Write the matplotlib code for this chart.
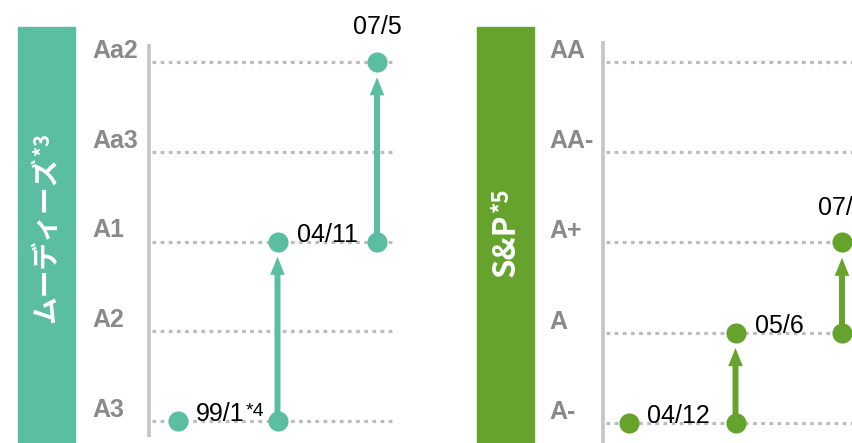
import matplotlib
matplotlib.use("Agg")
import matplotlib.pyplot as plt
from matplotlib.patches import Rectangle

# ---------------- data ----------------
moody_levels = ["A3", "A2", "A1", "Aa3", "Aa2"]
moody_dates = ["99/1", "04/11", "07/5"]
moody_notes = ["*4", "", ""]
moody_before = [None, "A3", "A1"]
moody_after = ["A3", "A1", "Aa2"]

sp_levels = ["A-", "A", "A+", "AA-", "AA"]
sp_dates = ["04/12", "05/6", "07/6"]
sp_notes = ["", "", ""]
sp_before = [None, "A-", "A"]
sp_after = ["A-", "A", "A+"]

# ---------------- style ----------------
W, H = 852, 443
TEAL = "#5bbea3"
GREEN = "#65a32d"
GRAY_TXT = "#8a8a8a"
GRID = "#bcbcbc"
AXLINE = "#c4c4c4"
LAT = ["Liberation Sans", "DejaVu Sans"]
CJK = ["Noto Sans CJK JP", "DejaVu Sans"]

fig = plt.figure(figsize=(W / 100, H / 100), dpi=100)
fig.patch.set_facecolor("white")


def panel(title, note, color, levels, dates, notes, before, after,
          banner_x, title_cy, title_size, label_x, axis_x, col0_x, col2_x,
          grid_end_x, y_low, y_high, line_top, line_bot):
    # banner
    fig.patches.append(Rectangle((banner_x / W, -0.1), 57 / W, 1 - 27 / H + 0.1,
                                 transform=fig.transFigure, color=color, zorder=-5))
    sp = (col2_x - col0_x) / 2.0
    spy = (y_low - y_high) / 4.0
    x0 = -(col0_x - axis_x) / sp
    x1 = x0 + (grid_end_x - axis_x) / sp
    yb = -(H - y_low) / spy
    yt = 4 + y_high / spy
    ax = fig.add_axes([axis_x / W, 0, (grid_end_x - axis_x) / W, 1])
    ax.set_xlim(x0, x1)
    ax.set_ylim(yb, yt)
    ax.axis("off")

    t = ax.text((banner_x + 28.5) / W, 1 - title_cy / H, title,
                transform=fig.transFigure, rotation=90,
                ha="center", va="center", color="white", fontsize=title_size,
                fontweight="bold", family=CJK, zorder=10)
    ax.annotate(note, xy=(0.0, 1), xycoords=t, xytext=(0, 1), textcoords="offset points",
                rotation=90, ha="left", va="bottom", color="white",
                fontsize=title_size * 0.72, fontweight="bold", family=CJK, zorder=10)

    # axis line
    ax.plot([x0, x0], [line_bot, line_top], color=AXLINE, lw=2.6, clip_on=False,
            solid_capstyle="butt", zorder=2)
    # grid lines and tick labels
    for k, lab in enumerate(levels):
        ax.plot([x0 + 3 / sp, x1], [k, k], color=GRID, lw=2.3,
                linestyle=(0, (1.15, 1.4)), zorder=1)
        ax.annotate(lab, xy=(label_x / W, k), xycoords=("figure fraction", "data"),
                    xytext=(0, 3), textcoords="offset points", ha="left",
                    va="baseline", fontsize=18, fontweight="bold", color=GRAY_TXT,
                    family=LAT, annotation_clip=False)

    # points, arrows, date labels
    for i in range(len(dates)):
        ya = levels.index(after[i])
        ax.plot(i, ya, "o", ms=14.5, color=color, mec="none", zorder=5)
        if before[i] is not None:
            yb0 = levels.index(before[i])
            ax.plot(i, yb0, "o", ms=14.5, color=color, mec="none", zorder=5)
            ax.annotate("", xy=(i, ya), xytext=(i, yb0),
                        arrowprops=dict(arrowstyle="simple,head_length=13,head_width=10.5,tail_width=4.3",
                                        fc=color, ec="none", lw=0, mutation_scale=1,
                                        shrinkA=0, shrinkB=11), zorder=3)
        if i == 0:
            txt = ax.annotate(dates[i], xy=(i, ya), xytext=(13, 0), textcoords="offset points",
                              ha="left", va="baseline", fontsize=18, color="black", family=LAT)
        elif i == len(dates) - 1:
            txt = ax.annotate(dates[i], xy=(i, ya), xytext=(0, 25), textcoords="offset points",
                              ha="center", va="center", fontsize=18, color="black", family=LAT)
        else:
            txt = ax.annotate(dates[i], xy=(i, ya), xytext=(14, 0), textcoords="offset points",
                              ha="left", va="baseline", fontsize=18, color="black", family=LAT)
        if notes[i]:
            ax.annotate(notes[i], xy=(1, 0.95), xycoords=txt, xytext=(0.5, 0),
                        textcoords="offset points", ha="left", va="top",
                        fontsize=14, color="black", family=LAT)
    return ax


panel("ムーディーズ", "*3", TEAL, moody_levels, moody_dates, moody_notes,
      moody_before, moody_after,
      banner_x=18, title_cy=240, title_size=20, label_x=92, axis_x=149,
      col0_x=178, col2_x=377, grid_end_x=394, y_low=421, y_high=62,
      line_top=4.2, line_bot=-0.18)

panel("S&P", "*5", GREEN, sp_levels, sp_dates, sp_notes,
      sp_before, sp_after,
      banner_x=477, title_cy=245, title_size=22.5, label_x=549, axis_x=603,
      col0_x=629, col2_x=842, grid_end_x=870, y_low=423, y_high=62,
      line_top=4.23, line_bot=-0.3)

fig.savefig("out.png", dpi=100, facecolor="white")
